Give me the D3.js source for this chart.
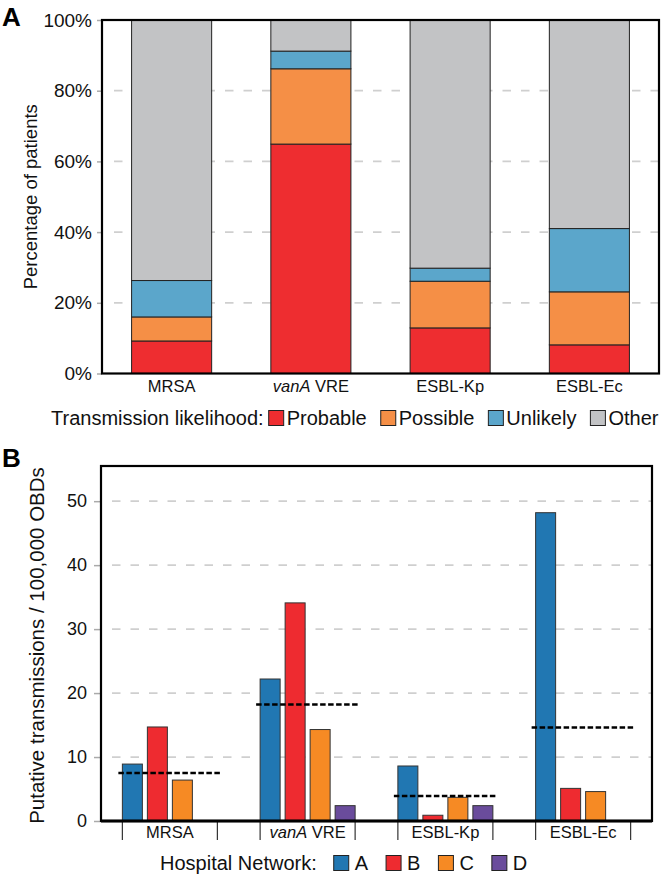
<!DOCTYPE html>
<html>
<head>
<meta charset="utf-8">
<script src="https://cdn.jsdelivr.net/npm/d3@7"></script>
<style>
  html, body { margin: 0; padding: 0; background: #fff; }
  svg { display: block; font-family: "Liberation Sans", Arial, Helvetica, sans-serif; }
</style>
</head>
<body>
<svg id="chart" width="667" height="878"></svg>
<script>
// ---------- Panel A data ----------
const categories = ["MRSA", "vanA VRE", "ESBL-Kp", "ESBL-Ec"];
const likelihoods = ["Probable", "Possible", "Unlikely", "Other"];
const probable = [9.2, 64.9, 12.9, 8.1];
const possible = [6.8, 21.3, 13.2, 15.0];
const unlikely = [10.3, 5.0, 3.7, 17.9];
const other = [73.7, 8.8, 70.2, 59.0];
const percentTicks = [0, 20, 40, 60, 80, 100];

// ---------- Panel B data ----------
const networks = ["A", "B", "C", "D"];
const networkA = [8.9, 22.2, 8.6, 48.2];
const networkB = [14.7, 34.1, 0.9, 5.1];
const networkC = [6.4, 14.3, 3.7, 4.6];
const networkD = [null, 2.4, 2.4, null];
const overallMean = [7.5, 18.2, 3.9, 14.6];
const rateTicks = [0, 10, 20, 30, 40, 50];

const likelihoodColors = ["#ee2d30", "#f58f46", "#5ba6cb", "#c2c3c5"];
const networkColors = ["#2177b2", "#ee2b30", "#f68a24", "#6a4c9c"];

const svg = d3.select("#chart");
const FONT = '"Liberation Sans", Arial, Helvetica, sans-serif';

function italicLabel(sel) {
  sel.each(function(d) {
    const t = d3.select(this);
    t.text(null);
    if (d.startsWith("vanA")) {
      t.append("tspan").attr("font-style", "italic").text("vanA");
      t.append("tspan").text(" VRE");
    } else {
      t.text(d);
    }
  });
}

// ================= Panel A =================
(function() {
  const L = 102, R = 659, T = 20, B = 373.5;
  const x = d3.scaleBand().domain(categories).range([L, R]).paddingInner(0.425).paddingOuter(0.2125);
  const y = d3.scaleLinear().domain([0, 100]).range([B, T]);
  const g = svg.append("g");

  g.selectAll("line.grid").data(percentTicks.filter(d => d > 0 && d < 100)).join("line")
    .attr("x1", L + 12).attr("x2", R).attr("y1", d => y(d)).attr("y2", d => y(d))
    .attr("stroke", "#cfcfcf").attr("stroke-width", 1.8).attr("stroke-dasharray", "8.5,10");

  const rows = categories.map((c, i) => ({cat: c, Probable: probable[i], Possible: possible[i], Unlikely: unlikely[i], Other: other[i]}));
  const stack = d3.stack().keys(likelihoods)(rows);
  stack.forEach((layer, li) => {
    g.selectAll("rect.l" + li).data(layer).join("rect")
      .attr("x", d => x(d.data.cat)).attr("width", x.bandwidth())
      .attr("y", d => y(Math.min(d[1], 100))).attr("height", d => y(d[0]) - y(Math.min(d[1], 100)))
      .attr("fill", likelihoodColors[li]).attr("stroke", "#222").attr("stroke-width", 1);
  });

  const ya = g.append("g").attr("transform", `translate(${L},0)`)
    .call(d3.axisLeft(y).tickValues(percentTicks).tickFormat(d => d + "%").tickSize(5).tickPadding(5));
  ya.select(".domain").remove();
  ya.selectAll(".tick line").attr("stroke", "#aaa").attr("stroke-width", 1.5);
  ya.selectAll(".tick text").attr("font-size", 19).attr("font-family", FONT).attr("fill", "#111");

  const xa = g.append("g").attr("transform", `translate(0,${B})`)
    .call(d3.axisBottom(x).tickSize(0).tickPadding(7));
  xa.select(".domain").remove();
  xa.selectAll(".tick text").attr("font-size", 16.5).attr("font-family", FONT).attr("fill", "#111").call(italicLabel);

  g.append("rect").attr("x", L).attr("y", T).attr("width", R - L).attr("height", B - T)
    .attr("fill", "none").attr("stroke", "#000").attr("stroke-width", 2.2);

  g.append("text").attr("transform", `translate(30,${(T + B) / 2}) rotate(-90)`)
    .attr("text-anchor", "middle").attr("dominant-baseline", "central")
    .attr("font-size", 18.5).attr("fill", "#111").text("Percentage of patients");

  svg.append("text").attr("x", 2).attr("y", 26).attr("font-size", 26).attr("font-weight", "bold").text("A");

  const lg = svg.append("g").attr("transform", "translate(51,418)");
  let cx = 0;
  const t0 = lg.append("text").attr("x", cx).attr("dy", "0.35em").attr("font-size", 20).attr("fill", "#111").text("Transmission likelihood:");
  cx += t0.node().getComputedTextLength() + 5;
  likelihoods.forEach((k, i) => {
    lg.append("rect").attr("x", cx).attr("y", -7.5).attr("width", 15).attr("height", 15)
      .attr("fill", likelihoodColors[i]).attr("stroke", "#222").attr("stroke-width", 1);
    cx += 18;
    const t = lg.append("text").attr("x", cx).attr("dy", "0.35em").attr("font-size", 20).attr("fill", "#111").text(k);
    cx += t.node().getComputedTextLength() + 14;
  });
})();

// ================= Panel B =================
(function() {
  const L = 101, R = 652, T = 466, B = 821;
  const x0 = d3.scaleBand().domain(categories).range([L, R]).paddingInner(0.274).paddingOuter(0.137);
  const x1 = d3.scaleBand().domain(networks).range([0, x0.bandwidth()]).paddingInner(0.2).paddingOuter(0.1);
  const y = d3.scaleLinear().domain([0, 55.5]).range([B, T]);
  const g = svg.append("g");

  g.selectAll("line.grid").data(rateTicks.filter(d => d > 0)).join("line")
    .attr("x1", L + 11).attr("x2", R).attr("y1", d => y(d)).attr("y2", d => y(d))
    .attr("stroke", "#cfcfcf").attr("stroke-width", 1.8).attr("stroke-dasharray", "8.5,10");

  const series = [networkA, networkB, networkC, networkD];
  const bars = [];
  categories.forEach((c, ci) => networks.forEach((n, ni) => {
    const v = series[ni][ci];
    if (v != null) bars.push({cat: c, net: n, ni, v});
  }));
  g.selectAll("rect.bar").data(bars).join("rect")
    .attr("x", d => x0(d.cat) + x1(d.net)).attr("width", x1.bandwidth())
    .attr("y", d => y(d.v)).attr("height", d => y(0) - y(d.v))
    .attr("fill", d => networkColors[d.ni]).attr("stroke", "#333").attr("stroke-width", 1);

  g.selectAll("line.mean").data(categories).join("line")
    .attr("x1", c => x0(c) - 1.5).attr("x2", c => x0(c) + x0.bandwidth() + 2)
    .attr("y1", (c, i) => y(overallMean[i])).attr("y2", (c, i) => y(overallMean[i]))
    .attr("stroke", "#000").attr("stroke-width", 2.5).attr("stroke-dasharray", "5.5,2.5");

  const ya = g.append("g").attr("transform", `translate(${L},0)`)
    .call(d3.axisLeft(y).tickValues(rateTicks).tickSize(6).tickPadding(8));
  ya.select(".domain").remove();
  ya.selectAll(".tick line").attr("stroke", "#aaa").attr("stroke-width", 1.5).attr("transform", "translate(-1,0)");
  ya.selectAll(".tick text").attr("font-size", 18).attr("font-family", FONT).attr("fill", "#111");

  const br = g.append("g");
  categories.forEach(c => {
    const xs = [x0(c) + x1("A"), x0(c) + x1("D") + x1.bandwidth()];
    xs.forEach(xx => br.append("line").attr("x1", xx).attr("x2", xx).attr("y1", B).attr("y2", B + 19)
      .attr("stroke", "#333").attr("stroke-width", 1.2));
  });
  const xa = g.append("g").attr("transform", `translate(0,${B})`)
    .call(d3.axisBottom(x0).tickSize(0).tickPadding(5));
  xa.select(".domain").remove();
  xa.selectAll(".tick text").attr("font-size", 16.5).attr("font-family", FONT).attr("fill", "#111").call(italicLabel);

  g.append("rect").attr("x", L).attr("y", T).attr("width", R - L).attr("height", B - T)
    .attr("fill", "none").attr("stroke", "#000").attr("stroke-width", 2.2);
  g.append("line").attr("x1", L).attr("x2", R).attr("y1", B).attr("y2", B).attr("stroke", "#000").attr("stroke-width", 3);

  g.append("text").attr("transform", `translate(36,${(T + B) / 2 + 2}) rotate(-90)`)
    .attr("text-anchor", "middle").attr("dominant-baseline", "central")
    .attr("font-size", 20.5).attr("fill", "#111").text("Putative transmissions / 100,000 OBDs");

  svg.append("text").attr("x", 2).attr("y", 467).attr("font-size", 26).attr("font-weight", "bold").text("B");

  const lg = svg.append("g").attr("transform", "translate(160,863)");
  let cx = 0;
  const t0 = lg.append("text").attr("x", cx).attr("dy", "0.35em").attr("font-size", 20).attr("fill", "#111").text("Hospital Network:");
  cx += t0.node().getComputedTextLength() + 17;
  networks.forEach((k, i) => {
    lg.append("rect").attr("x", cx).attr("y", -7.5).attr("width", 15).attr("height", 15)
      .attr("fill", networkColors[i]).attr("stroke", "#222").attr("stroke-width", 1);
    cx += 21;
    const t = lg.append("text").attr("x", cx).attr("dy", "0.35em").attr("font-size", 20).attr("fill", "#111").text(k);
    cx += t.node().getComputedTextLength() + 18;
  });
})();
</script>
</body>
</html>
